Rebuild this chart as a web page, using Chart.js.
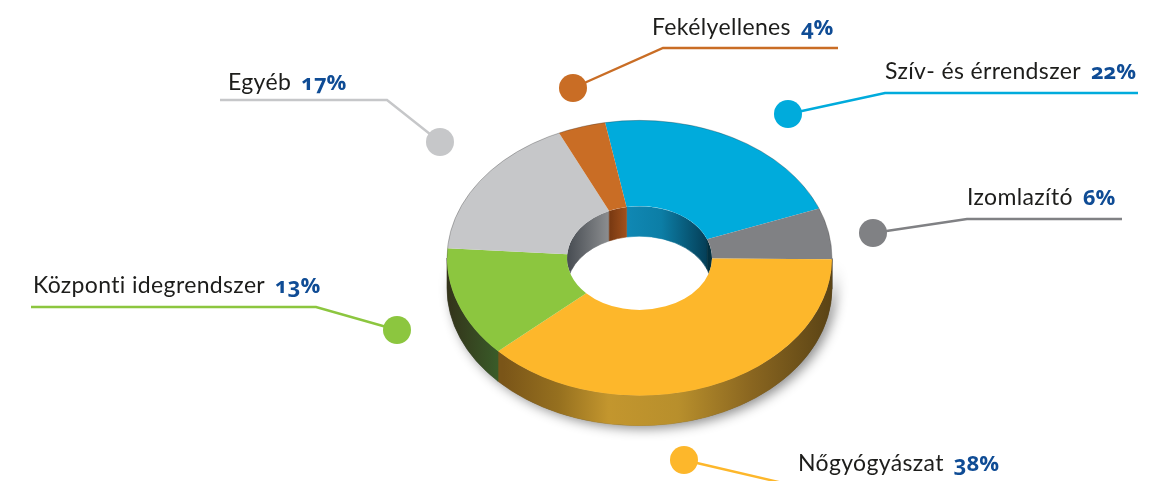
<!DOCTYPE html>
<html lang="hu">
<head>
<meta charset="utf-8">
<title>Kategóriák</title>
<script src="https://cdn.jsdelivr.net/npm/chart.js@4"></script>
<style>
    html, body { margin: 0; padding: 0; background: #fff; }
    #wrap { position: relative; width: 1160px; height: 481px; overflow: hidden; }
    .label { position: absolute; white-space: nowrap; font: 23px/26px Lato, "Noto Sans", sans-serif; letter-spacing: 0.35px; color: #1d1d1b; }
    .label b { margin-left: 10px; letter-spacing: 0; font: 700 22px/26px "Open Sans", sans-serif; font-feature-settings: "onum"; color: #0f4c95; }
</style>
</head>
<body>
<div id="wrap"><canvas id="donut" width="1160" height="481"></canvas></div>
<script>
// adatok
const categories = ['Szív- és érrendszer', 'Izomlazító', 'Nőgyógyászat', 'Központi idegrendszer', 'Egyéb', 'Fekélyellenes'];
const shares = [22, 6, 38, 13, 17, 4];
const sliceColors = ['#00abdc', '#808184', '#fdb72b', '#8cc63f', '#c6c7c9', '#c96d25'];

// oldalfalak színátmenetei: [pozíció, szín]
const outerWalls = [
    [[0, '#0a6f92'], [1, '#0a6f92']],
    [[0, '#4a4a4c'], [1, '#4a4a4c']],
    [[0, '#7a5518'], [0.145, '#7a5518'], [0.29, '#96701f'], [0.42, '#c3962e'], [0.6, '#b88f2c'], [0.79, '#8a6620'], [1, '#5a4315']],
    [[0, '#33331a'], [0.145, '#3a5f2a'], [1, '#3a5f2a']],
    [[0, '#77787a'], [1, '#77787a']],
    [[0, '#7a3a12'], [1, '#7a3a12']]
];
const innerWalls = [
    [[0.41, '#1088b4'], [0.65, '#0c7ea6'], [1, '#04384f']],
    [[0, '#03303f'], [1, '#03303f']],
    [[0, '#7a5518'], [1, '#7a5518']],
    [[0, '#3a5f2a'], [1, '#3a5f2a']],
    [[0, '#474c52'], [0.3, '#8e9092']],
    [[0.3, '#7a3a12'], [0.41, '#a0501c']]
];

// feliratok és vezetővonalak: felirat bal széle, teteje, vonal töréspontjai
const callouts = [
    { x: 885, y: 57, pts: [[788, 114], [885, 93], [1138, 93]] },
    { x: 967, y: 183, pts: [[873, 233], [967, 219], [1122, 219]] },
    { x: 798, y: 449, pts: [[684, 460], [800, 487]] },
    { x: 33, y: 271, pts: [[397, 330], [316, 307], [31, 307]] },
    { x: 228, y: 68, pts: [[440, 142], [387, 100], [220, 100]] },
    { x: 652, y: 13, pts: [[573, 88], [663, 48], [838, 48]] }
];

const faceY = 258;        // felső lap középpontja
const squash = 0.715;     // lapítás
const depth = 30;         // vastagság

function wallPath(ctx, x, y, r, from, to) {
    ctx.beginPath();
    ctx.ellipse(x, y, r, r * squash, 0, from, to);
    ctx.ellipse(x, y + depth, r, r * squash, 0, to, from, true);
    ctx.closePath();
}

function fillWall(ctx, x, r, stops) {
    const g = ctx.createLinearGradient(x - r, 0, x + r, 0);
    stops.forEach(s => g.addColorStop(s[0], s[1]));
    ctx.fillStyle = g;
    ctx.strokeStyle = g;
    ctx.lineWidth = 0.6;
    ctx.fill();
    ctx.stroke();
}

const tiltPlugin = {
    id: 'tilt',
    beforeDatasetsDraw(chart) {
        const ctx = chart.ctx;
        const arcs = chart.getDatasetMeta(0).data;
        const x = arcs[0].x;
        const R = arcs[0].outerRadius;
        const r = arcs[0].innerRadius;

        // árnyék a korong alatt
        ctx.save();
        ctx.shadowColor = 'rgba(0,0,0,0.45)';
        ctx.shadowBlur = 12;
        ctx.shadowOffsetX = 4;
        ctx.shadowOffsetY = 3;
        wallPath(ctx, x, faceY, R, 0, Math.PI);
        ctx.fillStyle = '#555';
        ctx.fill();
        ctx.restore();

        // külső fal, csak az alsó fél látszik
        arcs.forEach((arc, i) => {
            const from = Math.max(arc.startAngle, 0);
            const to = Math.min(arc.endAngle, Math.PI);
            if (to > from) {
                wallPath(ctx, x, faceY, R, from, to);
                fillWall(ctx, x, R, outerWalls[i]);
            }
        });

        // belső fal a lyukban
        ctx.save();
        ctx.beginPath();
        ctx.ellipse(x, faceY, r, r * squash, 0, 0, Math.PI * 2);
        ctx.fillStyle = '#fff';
        ctx.fill();
        ctx.clip();
        arcs.forEach((arc, i) => {
            [[-Math.PI, 0], [Math.PI, Math.PI * 2]].forEach(range => {
                const from = Math.max(arc.startAngle, range[0]);
                const to = Math.min(arc.endAngle, range[1]);
                if (to > from) {
                    wallPath(ctx, x, faceY, r, from, to);
                    fillWall(ctx, x, r, innerWalls[i]);
                }
            });
        });
        ctx.restore();
    },
    beforeDatasetDraw(chart) {
        const ctx = chart.ctx;
        const cy = chart.getDatasetMeta(0).data[0].y;
        ctx.save();
        ctx.translate(0, faceY);
        ctx.scale(1, squash);
        ctx.translate(0, -cy);
    },
    afterDatasetDraw(chart) {
        const ctx = chart.ctx;
        const arc = chart.getDatasetMeta(0).data[0];
        // vékony sötét perem a hátsó íven
        ctx.strokeStyle = 'rgba(40,40,40,0.35)';
        ctx.lineWidth = 1;
        ctx.beginPath();
        ctx.arc(arc.x, arc.y, arc.outerRadius, Math.PI, Math.PI * 2);
        ctx.stroke();
        ctx.restore();
    },
    afterDraw(chart) {
        const ctx = chart.ctx;
        callouts.forEach((c, i) => {
            ctx.strokeStyle = sliceColors[i];
            ctx.lineWidth = 2.4;
            ctx.beginPath();
            c.pts.forEach((p, j) => j ? ctx.lineTo(p[0], p[1]) : ctx.moveTo(p[0], p[1]));
            ctx.stroke();
            ctx.fillStyle = sliceColors[i];
            ctx.beginPath();
            ctx.arc(c.pts[0][0], c.pts[0][1], 14, 0, Math.PI * 2);
            ctx.fill();
        });
    }
};

new Chart(document.getElementById('donut'), {
    type: 'doughnut',
    data: {
        labels: categories,
        datasets: [{
            data: shares,
            backgroundColor: sliceColors,
            borderWidth: 0,
            clip: false
        }]
    },
    options: {
        responsive: false,
        animation: false,
        rotation: -10.3,
        radius: 192.5,
        cutout: '37.66%',
        layout: { padding: { left: 119 } },
        events: [],
        plugins: {
            legend: { display: false },
            tooltip: { enabled: false }
        }
    },
    plugins: [tiltPlugin]
});

// feliratok
const wrap = document.getElementById('wrap');
categories.forEach((name, i) => {
    const el = document.createElement('div');
    el.className = 'label';
    el.style.left = callouts[i].x + 'px';
    el.style.top = callouts[i].y + 'px';
    el.textContent = name;
    const val = document.createElement('b');
    val.textContent = shares[i] + '%';
    el.appendChild(val);
    wrap.appendChild(el);
});
</script>
</body>
</html>
